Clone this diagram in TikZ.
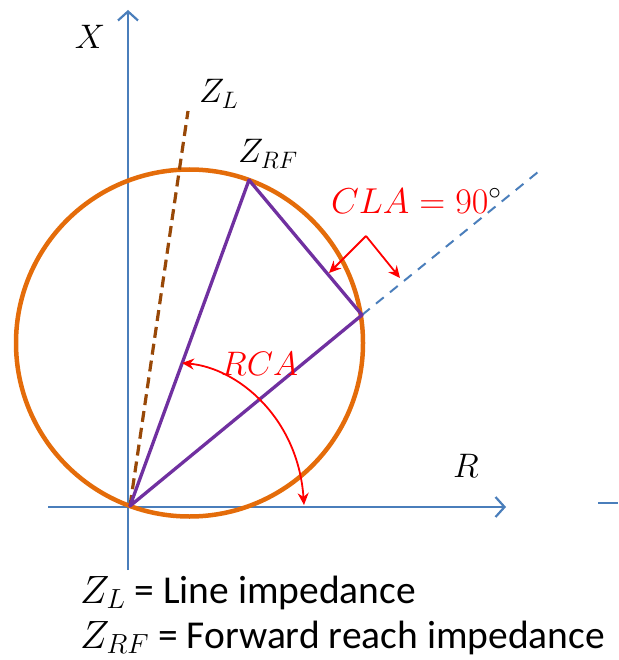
\RequirePackage{fix-cm}
\documentclass[tikz,border=0pt]{standalone}
\usepackage{fontspec}
\setmainfont{Carlito}
\usetikzlibrary{arrows.meta,calc}
\definecolor{axisblue}{HTML}{4A7EBB}
\definecolor{orng}{HTML}{E46C0A}
\definecolor{purp}{HTML}{7030A0}
\definecolor{brwn}{HTML}{984807}
\definecolor{redc}{HTML}{FF0000}
\begin{document}
\begin{tikzpicture}[x=1pt,y=-1pt,
  axis/.style={axisblue, line width=2.2pt, -{Straight Barb[length=9pt,width=20pt,line width=2.2pt]}},
  mlabel/.style={inner sep=0pt, font=\fontsize{34}{40}\selectfont},
  redarrow/.style={redc, line width=1.8pt},
  legend/.style={anchor=base west, inner sep=0pt, font=\fontsize{39.5}{42}\selectfont}
]
\useasboundingbox (0,0) rectangle (618,660);
% key points
\coordinate (O) at (130,506);
\coordinate (ZRF) at (249,180);
\coordinate (V) at (362,315);
\coordinate (C) at ($(O)!0.5!(ZRF)$);
\coordinate (ZLend) at (188,111);
\coordinate (Vext) at (538,172);
% axes
\coordinate (xbot) at (128,570);
\coordinate (xtop) at (128,10);
\coordinate (rleft) at (48,507);
\coordinate (rright) at (506,507);
\coordinate (s1) at (598,503);
\coordinate (s2) at (618,503);
\draw[axis] (xbot) -- (xtop);
\draw[axis] (rleft) -- (rright);
\draw[axisblue, line width=2.2pt] (s1) -- (s2);
% circle
\draw[orng, line width=4.5pt] (C) circle[radius=173.5pt];
% line impedance (dashed brown)
\draw[brwn, line width=3.2pt, dash pattern=on 11pt off 6pt] (O) -- (ZLend);
% extension (dashed blue)
\draw[axisblue, line width=2pt, dash pattern=on 10pt off 8pt] (V) -- (Vext);
% triangle
\draw[purp, line width=3.3pt, line join=round] (O) -- (ZRF) -- (V) -- cycle;
% CLA right-angle arrows
\coordinate (rv) at (366,236);
\coordinate (rl) at (329,273);
\coordinate (rr) at (400,278);
\draw[redarrow, -{Stealth[length=12pt,width=11pt]}] (rv) -- (rl);
\draw[redarrow, -{Stealth[length=12pt,width=11pt]}] (rv) -- (rr);
% RCA arc
\coordinate (rcaS) at (182,363);
\coordinate (rcaE) at (304,505);
\draw[redarrow, {Stealth[length=12pt,width=11pt]}-{Stealth[length=12pt,width=11pt]}] (rcaS) .. controls (238,368) and (298,418) .. (rcaE);
% labels
\node[mlabel] (Xl) at (90,37) {$X$};
\node[mlabel] (Rl) at (466,466) {$R$};
\node[mlabel, anchor=base west] (ZLl) at (199,103) {$Z_L$};
\node[mlabel, anchor=base west] (ZRFl) at (238,163) {$Z_{RF}$};
\node[mlabel, anchor=base west, text=redc, font=\fontsize{36}{40}\selectfont] (CLAl) at (331,213) {$CLA=90\textcolor{black}{^{\circ}}$};
\node[mlabel, anchor=base west, text=redc] (RCAl) at (221,375) {$RCA$};
\node[legend] (leg1) at (80,603) {$Z_L$ = Line impedance};
\node[legend] (leg2) at (80,648) {$Z_{RF}$ = Forward reach impedance};
\end{tikzpicture}
\end{document}
